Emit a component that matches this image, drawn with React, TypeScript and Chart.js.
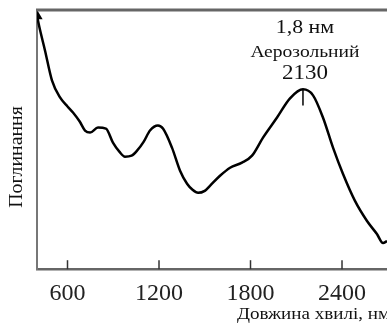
import React, { useEffect, useRef } from "react";
import { Chart, registerables } from "chart.js";

Chart.register(...registerables);

const wavelength = [400, 420, 452, 498, 551, 600, 636, 680, 715, 748, 800, 852, 898, 940, 977, 1020, 1056, 1100, 1141, 1193, 1226, 1285, 1338, 1384, 1420, 1456, 1500, 1534, 1600, 1666, 1744, 1810, 1882, 1974, 2059, 2144, 2210, 2275, 2341, 2406, 2485, 2564, 2629, 2669, 2695];
const absorption = [252, 238, 218, 188, 171, 162, 156, 147, 138, 136, 141, 140, 126, 117, 112, 113, 118, 127, 138, 143, 140, 121, 98, 85, 79, 76, 78, 83, 93, 101, 106, 113, 131, 151, 170, 179, 173, 151, 121, 95, 68, 48, 35, 26, 28];
const xTicks = [600, 1200, 1800, 2400];
const peakWavelength = 2144;
const peakMarker = [179, 163];
const peakLabels = ["1,8 нм", "Аерозольний", "2130"];
const xTitle = "Довжина хвилі, нм";
const yTitle = "Поглинання";

function stretchedText(ctx: any, text: string, x: number, y: number, sx: number) {
  ctx.save();
  ctx.translate(x, y);
  ctx.scale(sx, 1);
  ctx.fillText(text, 0, 0);
  ctx.restore();
}

const textPlugin = {
  id: "texts",
  afterDraw(chart: any) {
    const { ctx, chartArea, scales } = chart;
    ctx.save();
    // top border
    ctx.strokeStyle = "#666";
    ctx.lineWidth = 3;
    ctx.beginPath();
    ctx.moveTo(chartArea.left - 1, chartArea.top);
    ctx.lineTo(chartArea.right, chartArea.top);
    ctx.stroke();
    // inward tick marks
    ctx.strokeStyle = "#333";
    ctx.lineWidth = 1.5;
    xTicks.forEach((v) => {
      const px = scales.x.getPixelForValue(v);
      ctx.beginPath();
      ctx.moveTo(px, chartArea.bottom);
      ctx.lineTo(px, chartArea.bottom - 9);
      ctx.stroke();
    });
    ctx.fillStyle = "#111";
    ctx.textAlign = "center";
    ctx.textBaseline = "middle";
    const cx = scales.x.getPixelForValue(peakWavelength) + 2;
    ctx.font = "19px 'Liberation Serif'";
    stretchedText(ctx, peakLabels[0], cx, 28, 1.15);
    ctx.font = "17px 'Liberation Serif'";
    stretchedText(ctx, peakLabels[1], cx, 53, 1.15);
    ctx.font = "20px 'Liberation Serif'";
    stretchedText(ctx, peakLabels[2], cx, 74, 1.15);
    // x title
    ctx.textAlign = "left";
    ctx.font = "17px 'Liberation Serif'";
    stretchedText(ctx, xTitle, 237, 315, 1.12);
    // y title
    ctx.translate(17, 157);
    ctx.rotate(-Math.PI / 2);
    ctx.textAlign = "center";
    ctx.font = "18px 'Liberation Serif'";
    stretchedText(ctx, yTitle, 0, 0, 1.1);
    ctx.restore();
  },
};

export default function App() {
  const ref = useRef<HTMLCanvasElement>(null);
  useEffect(() => {
    const data = wavelength.map((x, i) => ({ x, y: absorption[i] }));
    const chart = new Chart(ref.current!, {
      type: "line",
      data: {
        datasets: [
          {
            data,
            borderColor: "#000",
            borderWidth: 2.5,
            tension: 0.4,
            cubicInterpolationMode: "monotone",
            pointRadius: data.map((_, i) => (i === 0 ? 4 : 0)),
            pointStyle: "triangle",
            pointBackgroundColor: "#000",
            pointBorderColor: "#000",
          },
          {
            data: peakMarker.map((y) => ({ x: peakWavelength, y })),
            borderColor: "#000",
            borderWidth: 1.5,
            pointRadius: 0,
          },
        ],
      },
      options: {
        animation: false,
        responsive: false,
        layout: { autoPadding: false, padding: { left: 37, top: 10, right: 0, bottom: 7 } },
        plugins: { legend: { display: false }, tooltip: { enabled: false } },
        scales: {
          x: {
            type: "linear",
            min: 400,
            max: 2695,
            afterBuildTicks: (s: any) => {
              s.ticks = xTicks.map((value) => ({ value }));
            },
            afterFit: (s: any) => {
              s.paddingRight = 0;
              s.paddingLeft = 0;
            },
            grid: { display: false, drawTicks: false },
            border: { display: true, color: "#666", width: 2.5 },
            ticks: {
              color: "#222",
              padding: 10,
              font: { family: "'Liberation Serif'", size: 24 },
              maxRotation: 0,
              callback: (v: any) => String(v),
            },
          },
          y: {
            min: 0,
            max: 258,
            grid: { display: false, drawTicks: false },
            border: { display: true, color: "#777", width: 2 },
            ticks: { display: false },
          },
        },
      },
      plugins: [textPlugin],
    } as any);
    return () => chart.destroy();
  }, []);
  return (
    <div style={{ position: "absolute", left: 0, top: 0, width: 387, height: 325, background: "#fff" }}>
      <canvas ref={ref} width={387} height={325} />
    </div>
  );
}
